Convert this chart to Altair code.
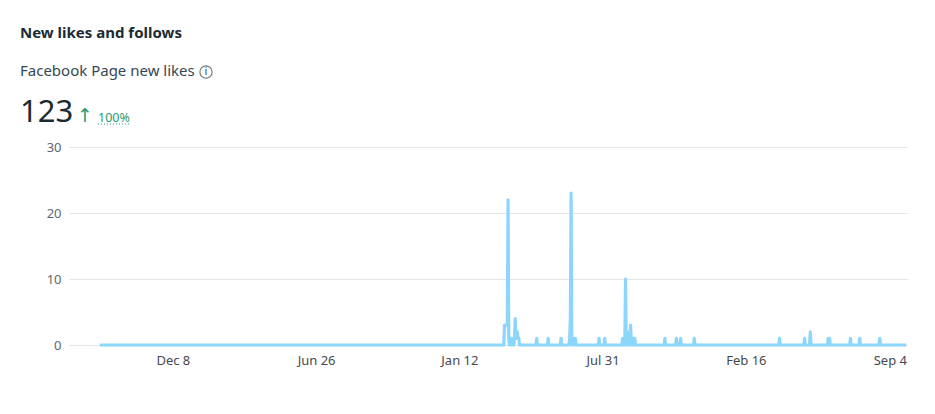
import altair as alt
import pandas as pd

# ---- data ----
start_date = "2021-08-28"
end_date = "2024-09-27"

spike_dates = [
    "2023-03-16", "2023-03-17", "2023-03-18", "2023-03-19", "2023-03-20", "2023-03-21",
    "2023-03-22", "2023-03-24", "2023-03-26", "2023-03-30", "2023-03-31", "2023-04-01",
    "2023-04-02", "2023-04-03", "2023-04-04", "2023-04-05",
    "2023-04-30", "2023-05-16", "2023-06-03",
    "2023-06-15", "2023-06-16", "2023-06-17", "2023-06-20", "2023-06-23",
    "2023-07-26", "2023-08-03",
    "2023-08-28", "2023-08-30", "2023-09-01", "2023-09-03", "2023-09-04", "2023-09-06",
    "2023-09-08", "2023-09-09", "2023-09-12", "2023-09-14",
    "2023-10-26", "2023-11-11", "2023-11-17", "2023-12-06",
    "2024-04-03", "2024-05-08", "2024-05-16", "2024-06-10", "2024-06-12",
    "2024-07-11", "2024-07-24", "2024-08-21",
]
spike_values = [
    3, 3, 3, 3, 3, 22,
    1, 1, 1, 1, 4, 1,
    2, 2, 1, 1,
    1, 1, 1,
    1, 4, 23, 1, 1,
    1, 1,
    1, 1, 10, 2, 1, 2,
    3, 1, 1, 1,
    1, 1, 1, 1,
    1, 1, 2, 1, 1,
    1, 1, 1,
]

y_ticks = [0, 10, 20, 30]
x_tick_dates = [(2021, 12, 8), (2022, 6, 26), (2023, 1, 12), (2023, 7, 31), (2024, 2, 16), (2024, 9, 4)]

title_text = "New likes and follows"
subtitle_text = "Facebook Page new likes"
total_text = "123"
change_text = "100%"

# ---- build daily table (zero on days without likes) ----
days = pd.date_range(start_date, end_date, freq="D")
lookup = dict(zip(pd.to_datetime(spike_dates), spike_values))
df = pd.DataFrame({"date": days, "likes": [lookup.get(d, 0) for d in days]})

FONT = "Noto Sans"
DARK = "#1c2b33"
GREEN = "#2b9a6f"

x_scale = alt.Scale(domain=[alt.DateTime(year=2021, month=7, date=16),
                            alt.DateTime(year=2024, month=9, date=28)])

line = alt.Chart(df).mark_line(color="#8dd6fb", strokeWidth=3.2, strokeJoin="round").encode(
    x=alt.X("date:T", scale=x_scale, title=None,
            axis=alt.Axis(values=[alt.DateTime(year=y, month=m, date=d) for y, m, d in x_tick_dates],
                          format="%b %-d", grid=False, domain=False, ticks=False,
                          labelPadding=9, labelFontSize=13, labelColor="#444950",
                          labelFont=FONT)),
    y=alt.Y("likes:Q", scale=alt.Scale(domain=[0, 30]), title=None,
            axis=alt.Axis(values=y_ticks, grid=True, gridColor="#e4e4e4", domain=False,
                          ticks=False, labelPadding=8, labelFontSize=13,
                          labelColor="#606770", labelFont=FONT)),
)

one = alt.Data(values=[{}])

def txt(text, x, y, size, color=DARK, weight="normal", baseline="alphabetic", align="left", font=FONT):
    return alt.Chart(one).mark_text(text=text, fontSize=size, color=color, fontWeight=weight,
                                    font=font, align=align, baseline=baseline).encode(
        x=alt.value(x), y=alt.value(y))

title = txt(title_text, -49, -109, 15, weight="bold")
subtitle = txt(subtitle_text, -49, -71, 15, color="#344854")
info_circle = alt.Chart(one).mark_point(shape="circle", filled=False, color="#344854",
                                        size=150, strokeWidth=1.2).encode(
    x=alt.value(137), y=alt.value(-75))
info_i = txt("i", 137, -75, 11, color="#344854", baseline="middle", align="center")
total = txt(total_text, -49, -25, 31)
arrow = txt("↑", 16, -25, 19, color=GREEN, align="center", font="DejaVu Sans")
change = txt(change_text, 29, -25, 12.5, color=GREEN)
underline = alt.Chart(one).mark_rule(color=GREEN, strokeDash=[1, 2], strokeWidth=1).encode(
    x=alt.value(29), x2=alt.value(62), y=alt.value(-23))

chart = alt.layer(line, title, subtitle, info_circle, info_i, total, arrow, change, underline).properties(
    width=838, height=198,
    autosize=alt.AutoSizeParams(type="none"),
    padding={"left": 61, "top": 139, "right": 20, "bottom": 40},
).configure_view(stroke=None)

chart.save("out.html", embed_options={"renderer": "svg", "actions": False})
